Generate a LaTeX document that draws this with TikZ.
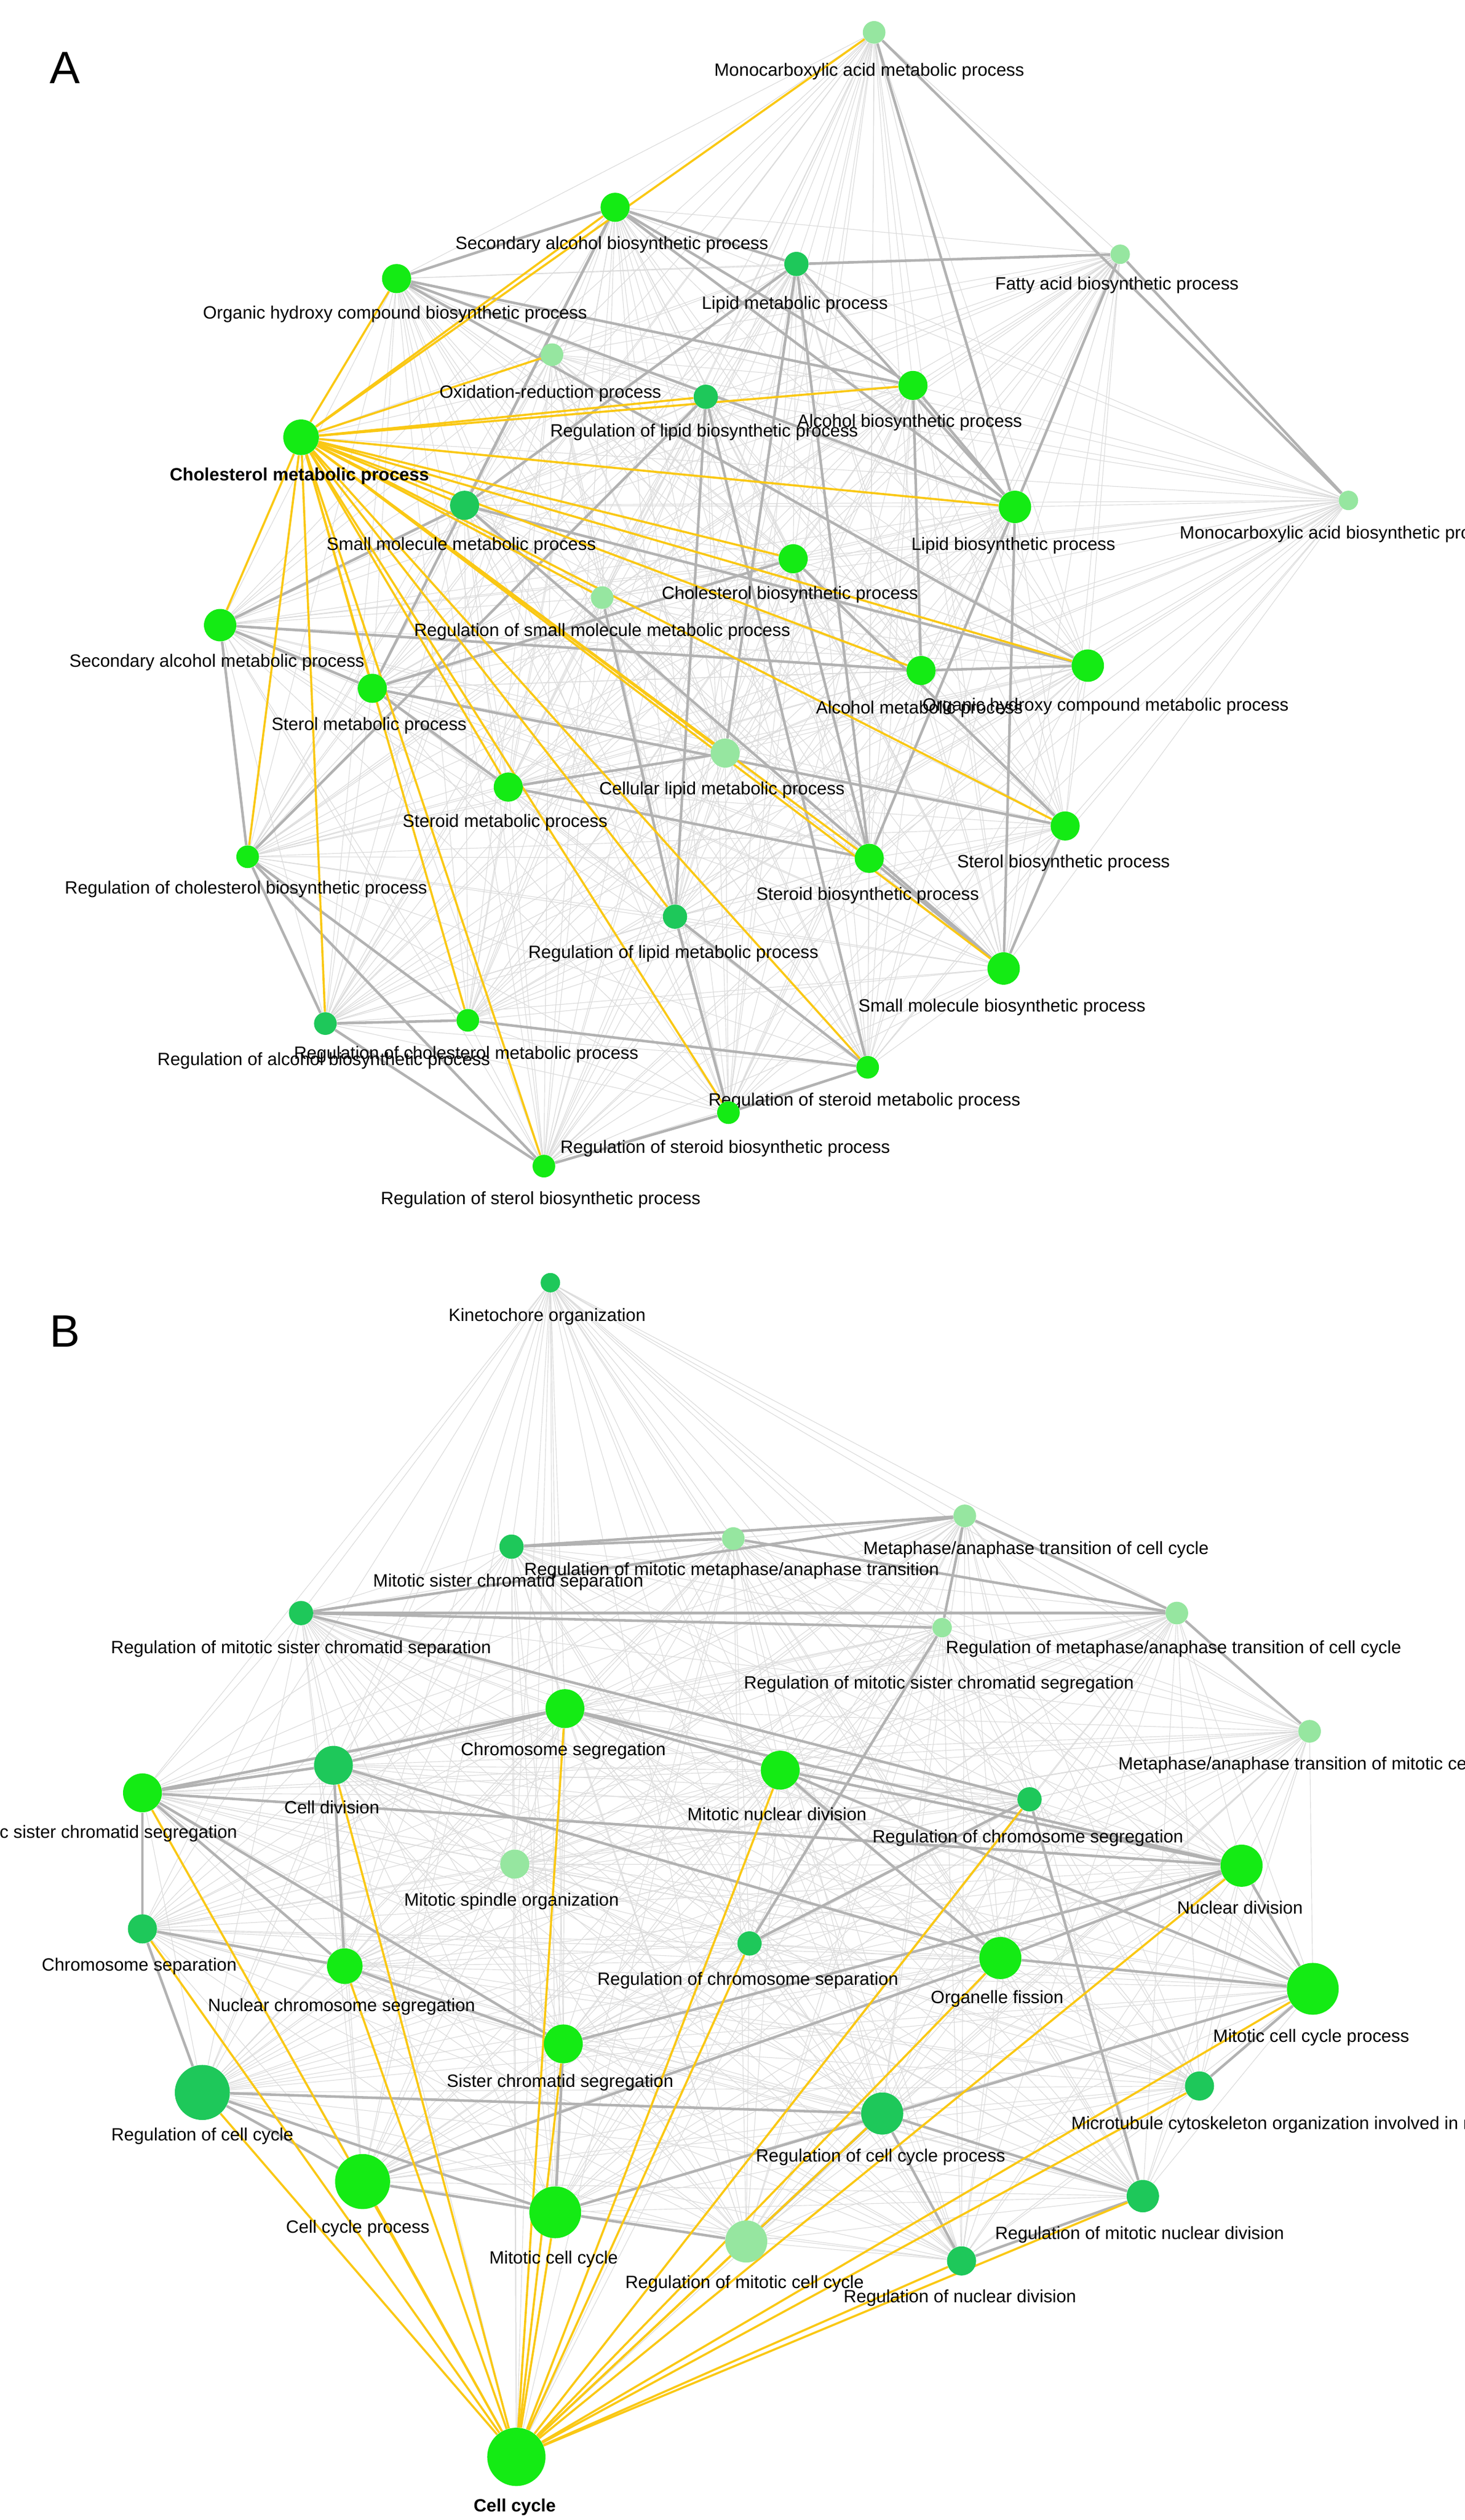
\documentclass[tikz,border=0pt]{standalone}
\usepackage{fontspec}
\setmainfont{Liberation Sans}
\usetikzlibrary{backgrounds}
\definecolor{lime}{RGB}{20,235,20}
\definecolor{teal1}{RGB}{30,200,90}
\definecolor{pale}{RGB}{150,230,160}
\definecolor{gold}{RGB}{250,200,20}
\tikzset{
  go/.style={circle, fill=lime, minimum size=#1, inner sep=0pt},
  go/.default=18pt,
  mid/.style={circle, fill=teal1, minimum size=#1, inner sep=0pt},
  mid/.default=15pt,
  pl/.style={circle, fill=pale, minimum size=#1, inner sep=0pt},
  pl/.default=14pt,
  lbl/.style={font=\fontsize{11}{13}\selectfont, inner sep=1pt},
  faint/.style={draw=gray!28, line width=0.4pt},
  link/.style={draw=gray!60, line width=1.6pt},
  hub/.style={draw=gold, line width=1.3pt}
}
% term: name, position, style, label position, label
\newcommand{\term}[5]{\node[#3] (#1) at (#2) {}; \node[lbl] (#1-t) at (#4) {#5};}
\begin{document}
\begin{tikzpicture}[x=1pt,y=-1pt]
  \useasboundingbox (0,0) rectangle (905,1556);
  \clip (0,0) rectangle (905,1556);

  % panel A
  \node[font=\fontsize{28}{30}\selectfont] (A) at (40,42) {A};
  \term{mam}{540,20}{pl}{537,44}{Monocarboxylic acid metabolic process}
  \term{sab}{380,128}{go}{378,151}{Secondary alcohol biosynthetic process}
  \term{lmp}{492,163}{mid}{491,188}{Lipid metabolic process}
  \term{fab}{692,157}{pl=12pt}{690,176}{Fatty acid biosynthetic process}
  \term{ohb}{245,172}{go}{244,194}{Organic hydroxy compound biosynthetic process}
  \term{orp}{341,219}{pl}{340,243}{Oxidation-reduction process}
  \term{rlb}{436,245}{mid}{435,267}{Regulation of lipid biosynthetic process}
  \term{abp}{564,238}{go}{562,261}{Alcohol biosynthetic process}
  \term{cmp}{186,270}{go=22pt}{185,294}{\bfseries Cholesterol metabolic process}
  \term{mab}{833,309}{pl=12pt}{830,330}{Monocarboxylic acid biosynthetic process}
  \term{smm}{287,312}{mid=18pt}{285,337}{Small molecule metabolic process}
  \term{lbp}{627,313}{go=20pt}{626,337}{Lipid biosynthetic process}
  \term{cbp}{490,345}{go}{488,367}{Cholesterol biosynthetic process}
  \term{sam}{136,386}{go=20pt}{134,409}{Secondary alcohol metabolic process}
  \term{rsm}{372,369}{pl}{372,390}{Regulation of small molecule metabolic process}
  \term{amp}{569,414}{go}{568,438}{Alcohol metabolic process}
  \term{ohm}{672,411}{go=20pt}{683,436}{Organic hydroxy compound metabolic process}
  \term{stm}{230,425}{go}{228,448}{Sterol metabolic process}
  \term{clm}{448,465}{pl=18pt}{446,488}{Cellular lipid metabolic process}
  \term{sdm}{314,486}{go}{312,508}{Steroid metabolic process}
  \term{sbp}{658,510}{go}{657,533}{Sterol biosynthetic process}
  \term{rcb}{153,529}{go=14pt}{152,549}{Regulation of cholesterol biosynthetic process}
  \term{sdb}{537,530}{go}{536,553}{Steroid biosynthetic process}
  \term{rlm}{417,566}{mid}{416,589}{Regulation of lipid metabolic process}
  \term{sbb}{620,598}{go=20pt}{619,622}{Small molecule biosynthetic process}
  \term{rab}{201,632}{mid=14pt}{200,655}{Regulation of alcohol biosynthetic process}
  \term{rcm}{289,630}{go=14pt}{288,651}{Regulation of cholesterol metabolic process}
  \term{rsd}{536,659}{go=14pt}{534,680}{Regulation of steroid metabolic process}
  \term{rdb}{450,687}{go=14pt}{448,709}{Regulation of steroid biosynthetic process}
  \term{rsb}{336,720}{go=14pt}{334,741}{Regulation of sterol biosynthetic process}

  % panel B
  \node[font=\fontsize{28}{30}\selectfont] (B) at (40,822) {B};
  \term{ko}{340,792}{mid=12pt}{338,813}{Kinetochore organization}
  \term{mat}{596,936}{pl}{640,957}{Metaphase/anaphase transition of cell cycle}
  \term{rmm}{453,950}{pl}{452,970}{Regulation of mitotic metaphase/anaphase transition}
  \term{mss}{316,955}{mid}{314,977}{Mitotic sister chromatid separation}
  \term{rms}{186,996}{mid}{186,1018}{Regulation of mitotic sister chromatid separation}
  \term{rma}{727,996}{pl}{725,1018}{Regulation of metaphase/anaphase transition of cell cycle}
  \term{rmg}{582,1005}{pl=12pt}{580,1040}{Regulation of mitotic sister chromatid segregation}
  \term{mmt}{809,1069}{pl}{815,1090}{Metaphase/anaphase transition of mitotic cell cycle}
  \term{csg}{349,1055}{go=24pt}{348,1081}{Chromosome segregation}
  \term{cdv}{206,1090}{mid=24pt}{205,1116}{Cell division}
  \term{mnd}{482,1093}{go=24pt}{480,1120}{Mitotic nuclear division}
  \term{msg}{88,1107}{go=24pt}{60,1132}{Mitotic sister chromatid segregation}
  \term{rcs}{636,1111}{mid}{635,1135}{Regulation of chromosome segregation}
  \term{msp}{318,1151}{pl=18pt}{316,1174}{Mitotic spindle organization}
  \term{ndv}{767,1152}{go=26pt}{766,1178}{Nuclear division}
  \term{csp}{88,1191}{mid=18pt}{86,1214}{Chromosome separation}
  \term{ncs}{213,1214}{go=22pt}{211,1239}{Nuclear chromosome segregation}
  \term{rcp}{463,1200}{mid}{462,1223}{Regulation of chromosome separation}
  \term{ofs}{618,1209}{go=26pt}{616,1234}{Organelle fission}
  \term{mcp}{811,1228}{go=32pt}{810,1258}{Mitotic cell cycle process}
  \term{scs}{348,1262}{go=24pt}{346,1286}{Sister chromatid segregation}
  \term{rcc}{125,1292}{mid=34pt}{125,1319}{Regulation of cell cycle}
  \term{mto}{741,1288}{mid=18pt}{800,1312}{Microtubule cytoskeleton organization involved in mitosis}
  \term{rcq}{545,1305}{mid=26pt}{544,1332}{Regulation of cell cycle process}
  \term{ccp}{224,1347}{go=34pt}{221,1376}{Cell cycle process}
  \term{mcc}{343,1366}{go=32pt}{342,1395}{Mitotic cell cycle}
  \term{rmn}{706,1356}{mid=20pt}{704,1380}{Regulation of mitotic nuclear division}
  \term{rmc}{461,1384}{pl=26pt}{460,1410}{Regulation of mitotic cell cycle}
  \term{rnd}{594,1396}{mid=18pt}{593,1419}{Regulation of nuclear division}
  \term{cc}{319,1517}{go=36pt}{318,1548}{\bfseries Cell cycle}

  \begin{pgfonlayer}{background}
    % all pairs, faint
    \foreach \a [count=\i] in {mam,sab,lmp,fab,ohb,orp,rlb,abp,cmp,mab,smm,lbp,cbp,sam,rsm,amp,ohm,stm,clm,sdm,sbp,rcb,sdb,rlm,sbb,rab,rcm,rsd,rdb,rsb}
      \foreach \b [count=\j] in {mam,sab,lmp,fab,ohb,orp,rlb,abp,cmp,mab,smm,lbp,cbp,sam,rsm,amp,ohm,stm,clm,sdm,sbp,rcb,sdb,rlm,sbb,rab,rcm,rsd,rdb,rsb}
        {\ifnum\j>\i \draw[faint] (\a) -- (\b); \fi}
    \foreach \a [count=\i] in {ko,mat,rmm,mss,rms,rma,rmg,mmt,csg,cdv,mnd,msg,rcs,msp,ndv,csp,ncs,rcp,ofs,mcp,scs,rcc,mto,rcq,ccp,mcc,rmn,rmc,rnd,cc}
      \foreach \b [count=\j] in {ko,mat,rmm,mss,rms,rma,rmg,mmt,csg,cdv,mnd,msg,rcs,msp,ndv,csp,ncs,rcp,ofs,mcp,scs,rcc,mto,rcq,ccp,mcc,rmn,rmc,rnd,cc}
        {\ifnum\j>\i \draw[faint] (\a) -- (\b); \fi}
    % strong links
    \foreach \a/\b in {sab/lmp,sab/ohb,sab/abp,sab/lbp,sab/smm,sab/stm,ohb/abp,ohb/lbp,ohb/ohm,lmp/lbp,lmp/clm,lmp/smm,lmp/sdb,abp/amp,abp/lbp,rlb/rlm,rlb/rcb,rlb/rsd,smm/sbb,smm/sam,smm/ohm,lbp/sbb,lbp/sdb,cbp/sbp,cbp/sdb,cbp/stm,sam/stm,sam/amp,sam/rcb,amp/ohm,stm/sdm,stm/sbp,sdm/sdb,sdm/clm,sbp/sbb,sdb/sbb,rcb/rab,rcb/rsb,rcb/rcm,rlm/rsd,rlm/rdb,rab/rsb,rab/rcm,rcm/rsd,rsd/rdb,rdb/rsb,mam/mab,mam/lbp,fab/mab,fab/lbp,lmp/fab,rsm/rlm}
      \draw[link] (\a) -- (\b);
    \foreach \a/\b in {mss/mat,rms/mat,rms/rma,mss/rmm,rmm/rma,mat/rma,mat/rmg,rma/mmt,rms/rmg,csg/mnd,csg/cdv,csg/msg,csg/ndv,cdv/msg,cdv/ncs,cdv/ofs,mnd/ndv,mnd/ofs,mnd/mcp,msg/csp,msg/scs,msg/ncs,msg/ndv,rcs/rcp,rcs/rms,rcs/rmn,ndv/ofs,ndv/mcp,ndv/scs,csp/ncs,csp/rcc,ncs/scs,ofs/mcp,ofs/ccp,scs/mcc,rcc/ccp,rcc/rcq,rcc/mcc,rcq/rmc,rcq/rmn,rcq/rnd,ccp/mcc,mcc/rmc,mcp/mcc,rmn/rnd,mto/mcp,rcp/rmg}
      \draw[link] (\a) -- (\b);
    % hub links
    \foreach \b in {sab,ohb,orp,rlb,abp,mam,smm,lbp,cbp,sam,rsm,amp,ohm,stm,clm,sdm,sbp,rcb,sdb,rlm,sbb,rab,rcm,rsd,rdb,rsb}
      \draw[hub] (cmp) -- (\b);
    \foreach \b in {msg,csp,cdv,csg,mnd,ncs,scs,rcc,ccp,mcc,rmc,rcq,rnd,rmn,mcp,ndv,ofs,mto,rcs,rcp}
      \draw[hub] (cc) -- (\b);
  \end{pgfonlayer}
\end{tikzpicture}
\end{document}
